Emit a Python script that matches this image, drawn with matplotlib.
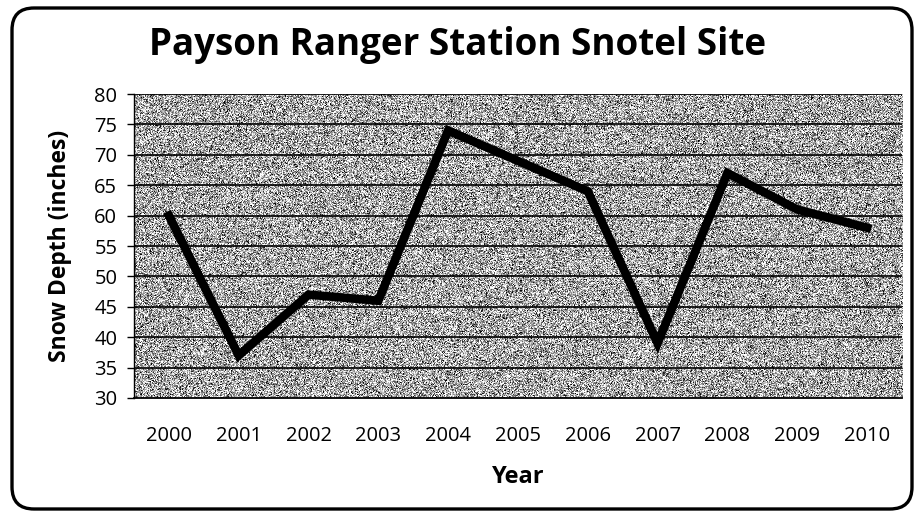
import numpy as np
import matplotlib
matplotlib.use('Agg')
import matplotlib.pyplot as plt
from matplotlib.patches import FancyBboxPatch

# Snow depth readings per year
years = ['2000', '2001', '2002', '2003', '2004', '2005',
         '2006', '2007', '2008', '2009', '2010']
depth = [60, 37, 47, 46, 74, 69, 64, 39, 67, 61, 58]
y_ticks = list(range(30, 81, 5))

plt.rcParams['font.family'] = ['Open Sans', 'DejaVu Sans']

fig = plt.figure(figsize=(9.15, 5.14), dpi=100)
fig.patch.set_facecolor('white')

# rounded chart border, drawn in pixel units
frame = fig.add_axes([0, 0, 1, 1])
frame.set_xlim(0, 915)
frame.set_ylim(514, 0)
frame.axis('off')
frame.add_patch(FancyBboxPatch((12, 8), 900, 501,
                               boxstyle='round,pad=0,rounding_size=22',
                               facecolor='white', edgecolor='black', linewidth=2.4))

ax = fig.add_axes([0.1464, 0.2257, 0.8394, 0.5914])
x = np.arange(len(years))

# grainy grey fill of the plot area
rng = np.random.default_rng(7)
grain = np.clip(rng.normal(0.66, 0.3, size=(305, 768)), 0, 1)
ax.imshow(grain, cmap='gray', vmin=0, vmax=1, interpolation='nearest',
          extent=(-0.5, len(years) - 0.5, 30, 80), aspect='auto', zorder=0)

for t in y_ticks[1:]:
    ax.axhline(t, color='black', linewidth=1.2, zorder=1)

ax.plot(x, depth, color='black', linewidth=6.2, solid_joinstyle='miter', zorder=3)

ax.set_xlim(-0.5, len(years) - 0.5)
ax.set_ylim(30, 80)
ax.set_yticks(y_ticks)
ax.set_yticklabels([str(t) for t in y_ticks], fontsize=14.5)
ax.set_xticks(x)
ax.set_xticklabels(years, fontsize=14.5)
ax.tick_params(axis='x', length=0, pad=20)
ax.tick_params(axis='y', length=5, width=1, direction='out', pad=7)
for side in ['top', 'right']:
    ax.spines[side].set_visible(False)
ax.spines['left'].set_linestyle((0, (1, 1)))
ax.spines['left'].set_linewidth(1)
ax.spines['bottom'].set_linewidth(1.3)

fig.text(0.5, 1 - 45 / 514, 'Payson Ranger Station Snotel Site',
         fontsize=26.5, fontweight='bold', ha='center', va='center')
ax.set_ylabel('Snow Depth (inches)', fontsize=16.5, fontweight='bold', labelpad=16)
ax.set_xlabel('Year', fontsize=17, fontweight='bold', labelpad=14)

fig.savefig('out.png', dpi=100)
